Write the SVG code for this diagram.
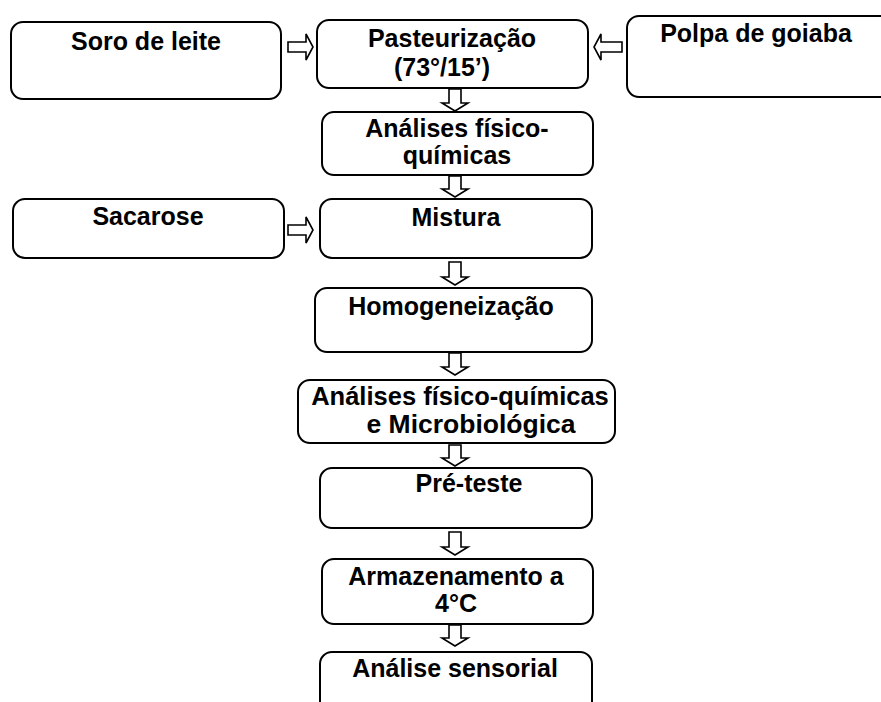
<svg xmlns="http://www.w3.org/2000/svg" width="881" height="702" viewBox="0 0 881 702">
<style>
.box{fill:#fff;stroke:#000;stroke-width:2}
.t{font-family:"Liberation Sans",Arial,sans-serif;font-weight:bold;font-size:25px;fill:#000;text-anchor:middle}
.ar{fill:#fff;stroke:#000;stroke-width:1.6;stroke-linejoin:miter}
</style>
<rect width="881" height="702" fill="#fff"/>
<g id="soro"><rect class="box" x="11" y="22" width="270" height="77" rx="12"/><text class="t" x="146" y="50">Soro de leite</text></g>
<g id="pasteurizacao"><rect class="box" x="317" y="20" width="271" height="68" rx="12"/><text class="t" x="452" y="47">Pasteurização</text><text class="t" x="442" y="76">(73°/15’)</text></g>
<g id="polpa"><rect class="box" x="627" y="16" width="290" height="81" rx="12"/><text class="t" x="756" y="42">Polpa de goiaba</text></g>
<g id="analises1"><rect class="box" x="322" y="112" width="271" height="63" rx="12"/><text class="t" x="457" y="137">Análises físico-</text><text class="t" x="457" y="164">químicas</text></g>
<g id="sacarose"><rect class="box" x="13" y="199" width="271" height="59" rx="12"/><text class="t" x="148" y="225">Sacarose</text></g>
<g id="mistura"><rect class="box" x="320" y="199" width="272" height="59" rx="12"/><text class="t" x="456" y="226">Mistura</text></g>
<g id="homogeneizacao"><rect class="box" x="315" y="288" width="277" height="64" rx="12"/><text class="t" x="451" y="315">Homogeneização</text></g>
<g id="analises2"><rect class="box" x="298" y="380" width="317" height="63" rx="12"/><text class="t" x="460" y="405" style="font-size:25.5px">Análises físico-químicas</text><text class="t" x="471" y="433" style="font-size:26.5px">e Microbiológica</text></g>
<g id="preteste"><rect class="box" x="320" y="468" width="272" height="60" rx="12"/><text class="t" x="469" y="492">Pré-teste</text></g>
<g id="armazenamento"><rect class="box" x="322" y="559" width="271" height="65" rx="12"/><text class="t" x="456" y="585">Armazenamento a</text><text class="t" x="456" y="612">4°C</text></g>
<g id="sensorial"><rect class="box" x="320" y="652" width="272" height="80" rx="12"/><text class="t" x="455" y="677">Análise sensorial</text></g>
<g id="connectors">
<polygon class="ar" points="288,42 306,42 306,34 313,47 306,60 306,52 288,52"/>
<polygon class="ar" points="622,42 601,42 601,34 594,47 601,60 601,52 622,52"/>
<polygon class="ar" points="288,225 306,225 306,217 313,230 306,243 306,235 288,235"/>
<polygon class="ar" points="449,89 461,89 461,103 468,103 455,111 442,103 449,103"/>
<polygon class="ar" points="449,176 461,176 461,189 468,189 455,197 442,189 449,189"/>
<polygon class="ar" points="449,262 461,262 461,277 468,277 455,285 442,277 449,277"/>
<polygon class="ar" points="449,353 461,353 461,367 468,367 455,375 442,367 449,367"/>
<polygon class="ar" points="449,445 461,445 461,458 468,458 455,466 442,458 449,458"/>
<polygon class="ar" points="449,532 461,532 461,547 468,547 455,555 442,547 449,547"/>
<polygon class="ar" points="449,625 461,625 461,638 468,638 455,646 442,638 449,638"/>
</g>
</svg>
